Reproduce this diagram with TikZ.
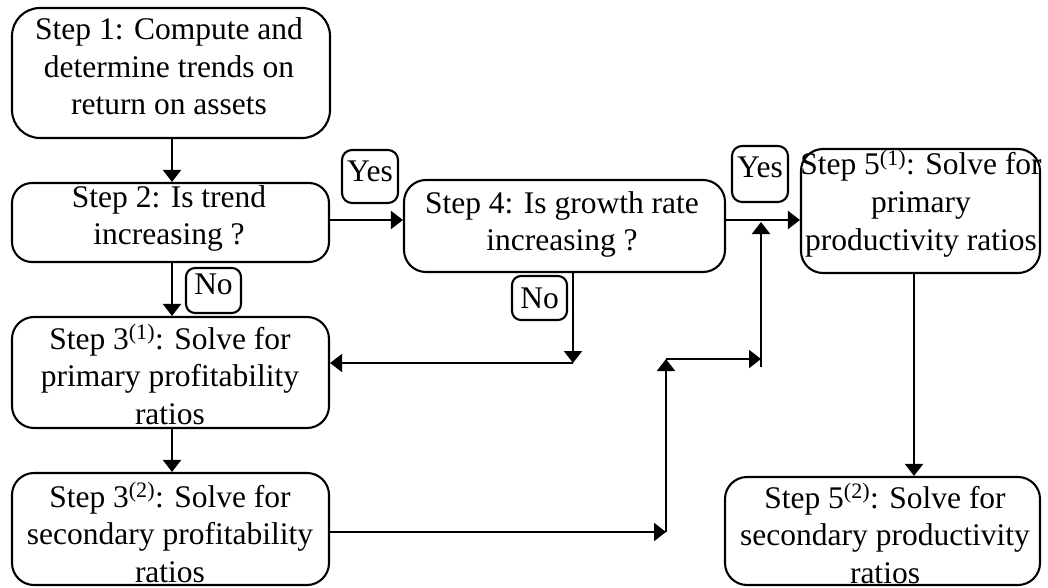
\documentclass[tikz,border=0pt]{standalone}
\usepackage{fontspec}
\setmainfont{Liberation Serif}
\usetikzlibrary{arrows.meta}
% centred lines whose reference point is the baseline of the first line
\newcommand\stacklines[1]{\vtop{\halign{\hfil##\hfil\cr#1\crcr}}}
\begin{document}
\begin{tikzpicture}[x=1pt,y=-1pt,
  box/.style={draw, line width=2.1pt, rounded corners=#1, inner sep=0pt},
  box/.default=22pt,
  txt/.style={font=\fontsize{31.5}{37.5}\selectfont, inner sep=0pt, anchor=base},
  arr/.style={line width=2pt, -{Triangle[length=12pt,width=18pt]}}]
\useasboundingbox (0,0) rectangle (1048,588);

% process steps
\node[box=28pt, minimum width=318pt, minimum height=130pt] (s1)  at (171,73)    {};
\node[box=20pt, minimum width=317pt, minimum height=79pt]  (s2)  at (170.5,222.5) {};
\node[box,      minimum width=317pt, minimum height=111pt] (s3a) at (170.5,372.5) {};
\node[box,      minimum width=317pt, minimum height=112pt] (s3b) at (170.5,529) {};
\node[box,      minimum width=321pt, minimum height=92pt]  (s4)  at (564.5,226) {};
\node[box,      minimum width=239pt, minimum height=124pt] (s5a) at (920.5,211) {};
\node[box,      minimum width=315pt, minimum height=108pt] (s5b) at (882.5,531) {};

\node[txt] (s1t)  at (169,40)  {\stacklines{Step 1: Compute and\cr determine trends on\cr return on assets}};
\node[txt] (s2t)  at (169,207) {\stacklines{Step 2: Is trend\cr increasing ?}};
\node[txt] (s3at) at (170,349) {\stacklines{Step 3\textsuperscript{(1)}: Solve for\cr primary profitability\cr ratios}};
\node[txt] (s3bt) at (170,507) {\stacklines{Step 3\textsuperscript{(2)}: Solve for\cr secondary profitability\cr ratios}};
\node[txt] (s4t)  at (562,213) {\stacklines{Step 4: Is growth rate\cr increasing ?}};
\node[txt] (s5at) at (921,175) {\stacklines{Step 5\textsuperscript{(1)}: Solve for\cr primary\cr productivity ratios}};
\node[txt] (s5bt) at (885,508) {\stacklines{Step 5\textsuperscript{(2)}: Solve for\cr secondary productivity\cr ratios}};

% decision labels
\node[box=10pt, minimum width=56pt, minimum height=53pt] (yes1) at (370,176.5) {};
\node[box=10pt, minimum width=56pt, minimum height=56pt] (yes2) at (760,174)   {};
\node[box=9pt,  minimum width=55pt, minimum height=45pt] (no1)  at (213.5,290.5) {};
\node[box=9pt,  minimum width=55pt, minimum height=44pt] (no2)  at (539.5,298) {};
\node[txt] (yes1t) at (370,182) {Yes};
\node[txt] (yes2t) at (760,177) {Yes};
\node[txt] (no1t)  at (213.5,294) {No};
\node[txt] (no2t)  at (539.5,308) {No};

% connectors
\coordinate (xl) at (172,0);
\coordinate (yr) at (0,220);
\coordinate (xr) at (914,0);
\coordinate (n4) at (573,363);
\coordinate (j1) at (666,532);
\coordinate (j2) at (666,359);
\coordinate (j3) at (761,359);
\coordinate (j4) at (761,367);
\coordinate (j5) at (761,222);

\draw[arr] (s1.south -| xl) -- (s2.north -| xl);
\draw[arr] (s2.south -| xl) -- (s3a.north -| xl);
\draw[arr] (s3a.south -| xl) -- (s3b.north -| xl);
\draw[arr] (s2.east |- yr) -- (s4.west |- yr);
\draw[arr] (s4.east |- yr) -- (s5a.west |- yr);
\draw[arr] (s4.south -| n4) -- (n4);
\draw[arr] (n4) -- (s3a.east |- n4);
\draw[arr] (s3b.east |- j1) -- (j1);
\draw[arr] (j1) -- (j2);
\draw[arr] (j2) -- (j3);
\draw[arr] (j4) -- (j5);
\draw[arr] (s5a.south -| xr) -- (s5b.north -| xr);
\end{tikzpicture}
\end{document}
